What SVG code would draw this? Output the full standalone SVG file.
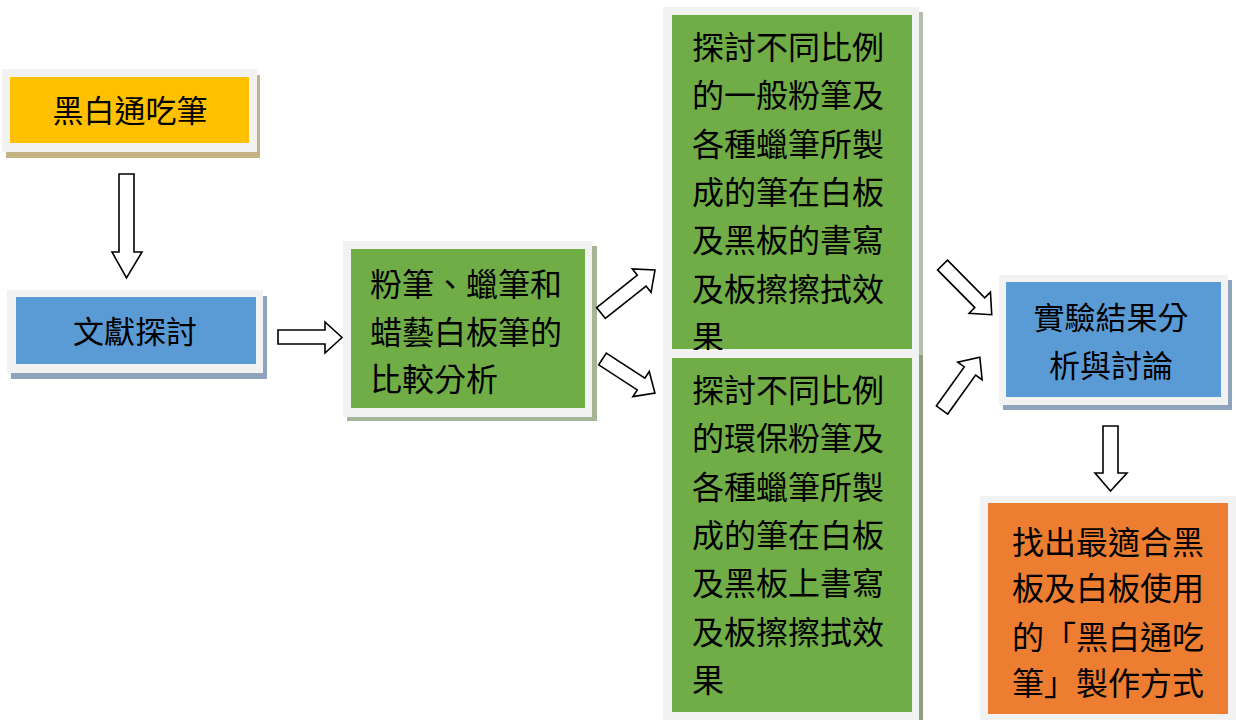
<svg xmlns="http://www.w3.org/2000/svg" width="1236" height="720" viewBox="0 0 1236 720">
<style>
.frame{fill:#F2F2F2}
.t{font-family:"Noto Sans CJK TC","Noto Sans CJK SC",sans-serif;font-size:32px;fill:#000}
.arr{fill:#fff;stroke:#000;stroke-width:1.6;stroke-linejoin:miter}
</style>
<rect width="1236" height="720" fill="#fff"/>
<g id="n1">
<rect x="6" y="75" width="254" height="83" fill="#C4B184"/>
<rect class="frame" x="2" y="69" width="255" height="83"/>
<rect x="10" y="77" width="239" height="66" fill="#FFC000"/>
<text class="t" x="130" y="122" text-anchor="middle" style="font-size:31px">黑白通吃筆</text>
</g>
<g id="n2">
<rect x="11" y="296" width="256" height="83" fill="#8FA3BC"/>
<rect class="frame" x="7" y="290" width="256" height="83"/>
<rect x="16" y="297" width="240" height="67" fill="#5B9BD5"/>
<text class="t" x="135" y="343" text-anchor="middle" style="font-size:31px">文獻探討</text>
</g>
<g id="n3">
<rect x="347" y="246" width="250" height="175" fill="#A5B597"/>
<rect class="frame" x="343" y="241" width="249" height="176"/>
<rect x="351" y="249" width="234" height="159" fill="#70AD47"/>
<text class="t" x="370" y="296">粉筆、蠟筆和</text>
<text class="t" x="370" y="344">蜡藝白板筆的</text>
<text class="t" x="370" y="391">比較分析</text>
</g>
<g id="n4">
<rect x="667" y="12" width="256" height="345" fill="#B3BFAA"/>
<rect class="frame" x="663" y="7" width="256" height="347"/>
<rect x="672" y="15" width="240" height="334" fill="#70AD47"/>
<text class="t" x="692" y="59">探討不同比例</text>
<text class="t" x="692" y="107">的一般粉筆及</text>
<text class="t" x="692" y="156">各種蠟筆所製</text>
<text class="t" x="692" y="204">成的筆在白板</text>
<text class="t" x="692" y="252">及黑板的書寫</text>
<text class="t" x="692" y="301">及板擦擦拭效</text>
<text class="t" x="692" y="349">果</text>
</g>
<g id="n5">
<rect x="667" y="355" width="256" height="370" fill="#8E9E80"/>
<rect class="frame" x="663" y="350" width="256" height="375"/>
<rect x="672" y="358" width="240" height="354" fill="#70AD47"/>
<text class="t" x="692" y="402">探討不同比例</text>
<text class="t" x="692" y="450">的環保粉筆及</text>
<text class="t" x="692" y="499">各種蠟筆所製</text>
<text class="t" x="692" y="547">成的筆在白板</text>
<text class="t" x="692" y="595">及黑板上書寫</text>
<text class="t" x="692" y="644">及板擦擦拭效</text>
<text class="t" x="692" y="692">果</text>
</g>
<g id="n6">
<rect x="1003" y="280" width="229" height="130" fill="#8FA3BC"/>
<rect class="frame" x="999" y="275" width="229" height="130"/>
<rect x="1006" y="282" width="215" height="115" fill="#5B9BD5"/>
<text class="t" x="1111" y="329" text-anchor="middle" style="font-size:31px">實驗結果分</text>
<text class="t" x="1111" y="377" text-anchor="middle" style="font-size:31px">析與討論</text>
</g>
<g id="n7">
<rect class="frame" x="980" y="496" width="256" height="230"/>
<rect x="988" y="503" width="240" height="211" fill="#ED7D31"/>
<text class="t" x="1012" y="554">找出最適合黑</text>
<text class="t" x="1012" y="600">板及白板使用</text>
<text class="t" x="1012" y="649">的「黑白通吃</text>
<text class="t" x="1012" y="695">筆」製作方式</text>
</g>
<g id="connectors">
<polygon class="arr" points="119,174 134,174 134,252 142,252 126.5,278 112,252 119,252"/>
<polygon class="arr" points="278,330 325,330 325,322 342,337.5 325,353 325,344 278,344"/>
<polygon class="arr" transform="translate(601,313) rotate(-38.5)" points="0,-7 52,-7 52,-15 69,0 52,15 52,7 0,7"/>
<polygon class="arr" transform="translate(602.5,359) rotate(33)" points="0,-7 46,-7 46,-15 62.5,0 46,15 46,7 0,7"/>
<polygon class="arr" transform="translate(942.5,265) rotate(45.3)" points="0,-7 53,-7 53,-15 70,0 53,15 53,7 0,7"/>
<polygon class="arr" transform="translate(942,410) rotate(-54.4)" points="0,-7 48,-7 48,-15 65,0 48,15 48,7 0,7"/>
<polygon class="arr" points="1103,426 1118,426 1118,473 1127,473 1110.5,491 1095,473 1103,473"/>
</g>
</svg>
